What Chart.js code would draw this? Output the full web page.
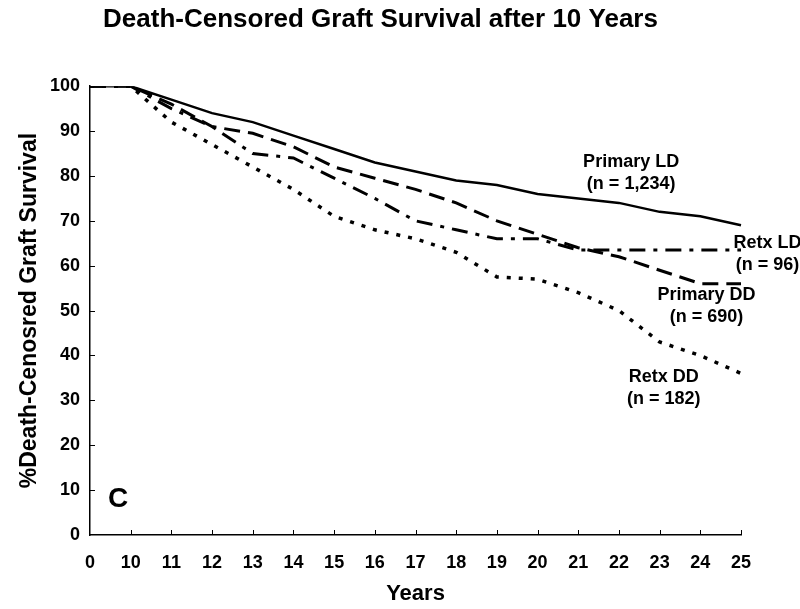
<!DOCTYPE html>
<html>
<head>
<meta charset="utf-8">
<script src="https://cdn.jsdelivr.net/npm/chart.js@4/dist/chart.umd.min.js"></script>
<style>
  html, body { margin: 0; padding: 0; background: #fff; }
  #wrap { width: 800px; height: 609px; }
</style>
</head>
<body>
<div id="wrap"><canvas id="survChart" width="800" height="609"></canvas></div>
<script>
// Years after transplant (category axis, 0 then 10..25)
const years = ['0', '10', '11', '12', '13', '14', '15', '16', '17', '18', '19', '20', '21', '22', '23', '24', '25'];

// % death-censored graft survival
const primaryLD = [100, 100, 97, 94, 92, 89, 86, 83, 81, 79, 78, 76, 75, 74, 72, 71, 69];
const primaryDD = [100, 100, 96, 91, 89.5, 86.5, 82, 79.5, 77, 74, 70, 67, 64, 62, 59, 56, 56];
const retxLD    = [100, 100, 95, 91, 85, 84, 79.5, 75, 70, 68, 66, 66, 63.5, 63.5, 63.5, 63.5, 63.5];
const retxDD    = [100, 100, 92, 87, 82, 77, 71, 68, 66, 63, 57.5, 57, 54, 50, 43, 40, 36];

const yTicks = [0, 100, 10]; // min, max, step

// text next to the curves: category index, value, lines
const curveLabels = [
  { x: 13.3, y: 83, lines: ['Primary LD', '(n = 1,234)'] },
  { x: 16.65, y: 65, lines: ['Retx LD', '(n = 96)'] },
  { x: 15.15, y: 53.5, lines: ['Primary DD', '(n = 690)'] },
  { x: 14.1, y: 35.2, lines: ['Retx DD', '(n = 182)'] }
];

const FONT = '"Liberation Sans", Arial, sans-serif';

// ticks pointing into the plot, curve labels and the panel letter
const extras = {
  id: 'extras',
  afterDraw(chart) {
    const ctx = chart.ctx;
    const xs = chart.scales.x, ys = chart.scales.y;
    ctx.save();
    ctx.strokeStyle = '#000';
    ctx.lineWidth = 1;
    xs.ticks.forEach((t, i) => {
      if (i === 0) return;
      const px = Math.round(xs.getPixelForTick(i)) + 0.5;
      ctx.beginPath();
      ctx.moveTo(px, ys.bottom);
      ctx.lineTo(px, ys.bottom - 5);
      ctx.stroke();
    });
    ys.ticks.forEach((t, i) => {
      if (i === 0) return;
      const py = Math.round(ys.getPixelForTick(i)) + 0.5;
      ctx.beginPath();
      ctx.moveTo(xs.left, py);
      ctx.lineTo(xs.left + 5, py);
      ctx.stroke();
    });

    ctx.fillStyle = '#000';
    ctx.font = 'bold 18px ' + FONT;
    ctx.textAlign = 'center';
    ctx.textBaseline = 'middle';
    curveLabels.forEach(l => {
      const px = xs.left + (xs.right - xs.left) * l.x / (years.length - 1);
      const py = ys.getPixelForValue(l.y);
      l.lines.forEach((s, k) => ctx.fillText(s, px, py + k * 22));
    });

    ctx.font = 'bold 28px ' + FONT;
    ctx.fillText('C', xs.getPixelForTick(0) + 28, ys.getPixelForValue(8));
    ctx.restore();
  }
};

const common = { fill: false, pointRadius: 0, tension: 0, borderColor: '#000', borderCapStyle: 'butt' };

new Chart(document.getElementById('survChart'), {
  type: 'line',
  data: {
    labels: years,
    datasets: [
      Object.assign({ label: 'Retx DD', data: retxDD, borderWidth: 3.5, borderDash: [4, 8] }, common),
      Object.assign({ label: 'Retx LD', data: retxLD, borderWidth: 3, borderDash: [16, 8, 4, 8] }, common),
      Object.assign({ label: 'Primary DD', data: primaryDD, borderWidth: 3, borderDash: [16, 8] }, common),
      Object.assign({ label: 'Primary LD', data: primaryLD, borderWidth: 2.5 }, common)
    ]
  },
  options: {
    responsive: false,
    animation: false,
    layout: { padding: { left: 20, right: 59, top: 0, bottom: 2 } },
    plugins: {
      legend: { display: false },
      tooltip: { enabled: false },
      title: {
        display: true,
        text: 'Death-Censored Graft Survival after 10 Years',
        color: '#000',
        font: { family: FONT, size: 26, weight: 'bold' },
        padding: { top: 4, bottom: 51 }
      }
    },
    scales: {
      x: {
        type: 'category',
        offset: false,
        afterFit(scale) { scale.height = 72; },
        grid: { drawOnChartArea: false, drawTicks: false },
        border: { display: true, color: '#000', width: 1.5 },
        ticks: { color: '#000', padding: 17, maxRotation: 0, autoSkip: false,
                 font: { family: FONT, size: 18, weight: 'bold' } },
        title: { display: true, text: 'Years', color: '#000', padding: { top: 0, bottom: 0 },
                 font: { family: FONT, size: 22, weight: 'bold' } }
      },
      y: {
        min: yTicks[0], max: yTicks[1],
        afterFit(scale) { scale.width = 70; },
        grid: { drawOnChartArea: false, drawTicks: false },
        border: { display: true, color: '#000', width: 1.5 },
        ticks: { stepSize: yTicks[2], color: '#000', padding: 10,
                 font: { family: FONT, size: 18, weight: 'bold' } },
        title: { display: true, text: '%Death-Cenosred Graft Survival', color: '#000', padding: { top: -4, bottom: 4 },
                 font: { family: FONT, size: 23, weight: 'bold' } }
      }
    }
  },
  plugins: [extras]
});
</script>
</body>
</html>
